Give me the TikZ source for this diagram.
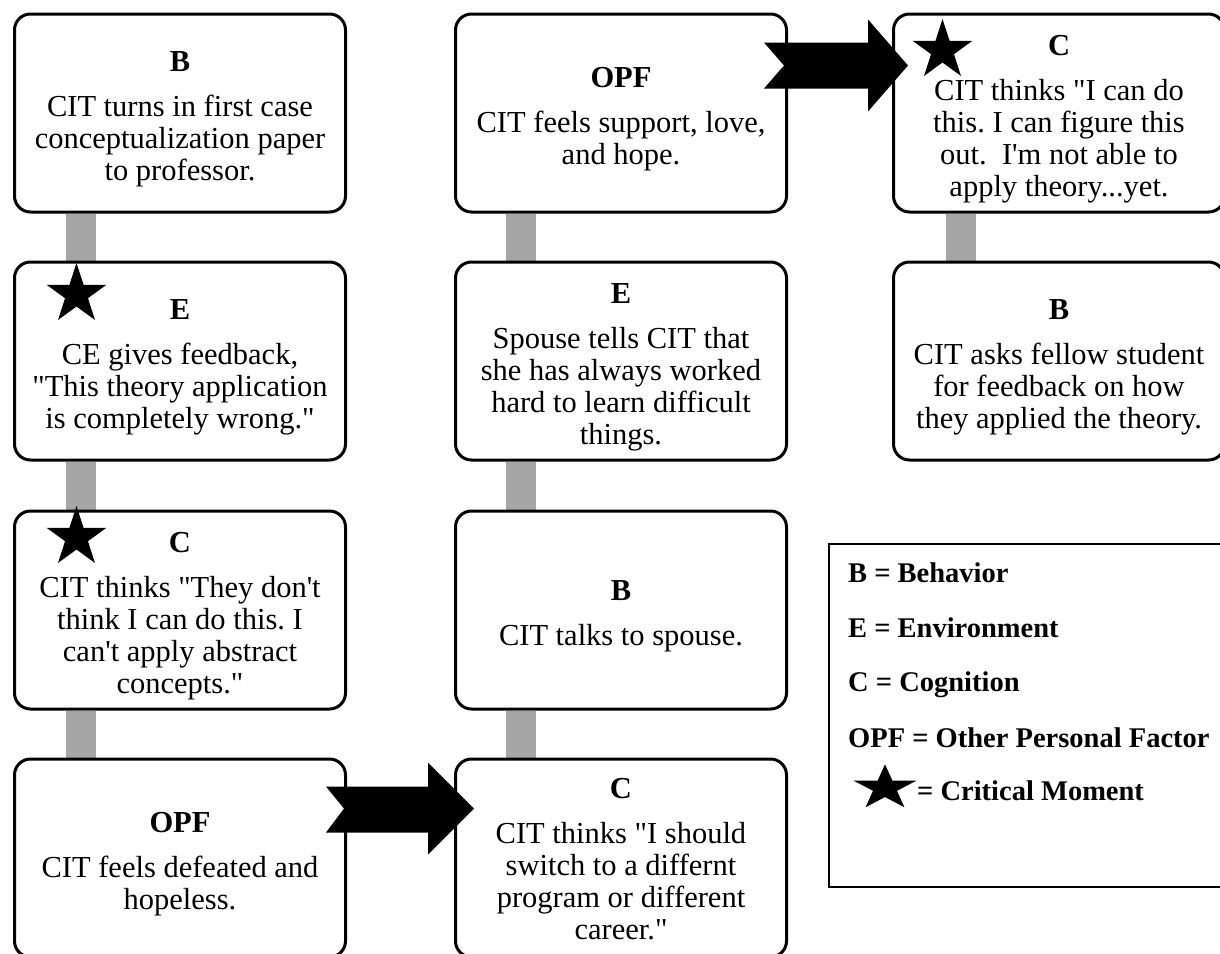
\documentclass[tikz,border=0pt]{standalone}
\usepackage{fontspec}
\setmainfont{Liberation Serif}
\usetikzlibrary{shapes.geometric,calc,backgrounds}
\definecolor{linkgray}{HTML}{A6A6A6}
\newcommand{\dq}{\textquotedbl}
\newcommand{\sq}{\textquotesingle}
\newcommand{\stagebox}[5][6]{%
  \node[box] (#2) at (#3,#4) {};
  \node[boxtext] (#2-t) at ($(#2.center)+(0,#1)$) {#5};}
\begin{document}
\begin{tikzpicture}[x=1pt,y=-1pt,
  box/.style={draw, line width=3pt, rounded corners=16pt, fill=white,
    minimum width=331pt, minimum height=198pt, inner sep=0pt},
  boxtext/.style={align=center, inner sep=0pt,
    font=\fontsize{30.5}{32}\selectfont},
  link/.style={draw=linkgray, line width=30pt},
  starmark/.style={star, star points=5, star point ratio=2.618, fill=black,
    draw=none, minimum size=63pt, inner sep=0pt},
  legtext/.style={anchor=base west, inner sep=0pt,
    font=\fontsize{28.5}{30}\selectfont\bfseries},
  blockarrow/.style={fill=black, draw=none}
]
\useasboundingbox (0,0) rectangle (1220,953);
\clip (0,0) rectangle (1220,953);
\frenchspacing
% column 1
\stagebox{b1}{180}{113}{{\bfseries B}\\[13pt]CIT turns in first case\\conceptualization paper\\to professor.}
\stagebox{e1}{180}{361}{{\bfseries E}\\[13pt]CE gives feedback,\\\dq This theory application\\is completely wrong.\dq}
\stagebox{c1}{180}{610}{{\bfseries C}\\[13pt]CIT thinks \dq They don\sq t\\think I can do this. I\\can\sq t apply abstract\\concepts.\dq}
\stagebox{o1}{180}{858}{{\bfseries OPF}\\[13pt]CIT feels defeated and\\hopeless.}
% column 2
\stagebox{o2}{621}{113}{{\bfseries OPF}\\[13pt]CIT feels support, love,\\and hope.}
\stagebox{e2}{621}{361}{{\bfseries E}\\[13pt]Spouse tells CIT that\\she has always worked\\hard to learn difficult\\things.}
\stagebox{b2}{621}{610}{{\bfseries B}\\[13pt]CIT talks to spouse.}
\stagebox[1]{c2}{621}{858}{{\bfseries C}\\[13pt]CIT thinks \dq I should\\switch to a differnt\\program or different\\career.\dq}
% column 3
\stagebox{c3}{1059}{113}{{\bfseries C}\\[13pt]CIT thinks \dq I can do\\this. I can figure this\\out.\ \ I\sq m not able to\\apply theory...yet.}
\stagebox{b3}{1059}{361}{{\bfseries B}\\[13pt]CIT asks fellow student\\for feedback on how\\they applied the theory.}
% gray links
\begin{pgfonlayer}{background}
\draw[link] ($(b1.south west)+(68,0)$) -- ($(e1.north west)+(68,0)$);
\draw[link] ($(e1.south west)+(68,0)$) -- ($(c1.north west)+(68,0)$);
\draw[link] ($(c1.south west)+(68,0)$) -- ($(o1.north west)+(68,0)$);
\draw[link] ($(o2.south west)+(67,0)$) -- ($(e2.north west)+(67,0)$);
\draw[link] ($(e2.south west)+(67,0)$) -- ($(b2.north west)+(67,0)$);
\draw[link] ($(b2.south west)+(67,0)$) -- ($(c2.north west)+(67,0)$);
\draw[link] ($(c3.south west)+(69,0)$) -- ($(b3.north west)+(69,0)$);
\end{pgfonlayer}
% block arrows
\begin{scope}[shift={(o2.north east)}]
\fill[blockarrow] (-24,30) -- (80,30) -- (80,7) -- (120,53) -- (80,99) -- (80,76) -- (-24,76) -- (-4,53) -- cycle;
\end{scope}
\begin{scope}[shift={(o1.north east)}]
\fill[blockarrow] (-21,29) -- (81,29) -- (81,5) -- (127,51) -- (81,97) -- (81,75) -- (-21,75) -- (-3,51) -- cycle;
\end{scope}
% stars
\node[starmark] (s1) at ($(e1.north west)+(63.5,34)$) {};
\node[starmark] (s2) at ($(c1.north west)+(63.5,28)$) {};
\node[starmark] (s3) at ($(c3.north west)+(50.5,38)$) {};
% legend
\draw[line width=1.5pt] (829,544) rectangle (1250,887);
\node[legtext] (l1) at (848,582) {B = Behavior};
\node[legtext] (l2) at (848,637) {E = Environment};
\node[legtext] (l3) at (848,691) {C = Cognition};
\node[legtext] (l4) at (848,747) {OPF = Other Personal Factor};
\node[starmark, minimum size=66pt, yscale=0.72, transform shape] (ls) at (885,788) {};
\node[legtext] (l5) at (917,800) {= Critical Moment};
\end{tikzpicture}
\end{document}
